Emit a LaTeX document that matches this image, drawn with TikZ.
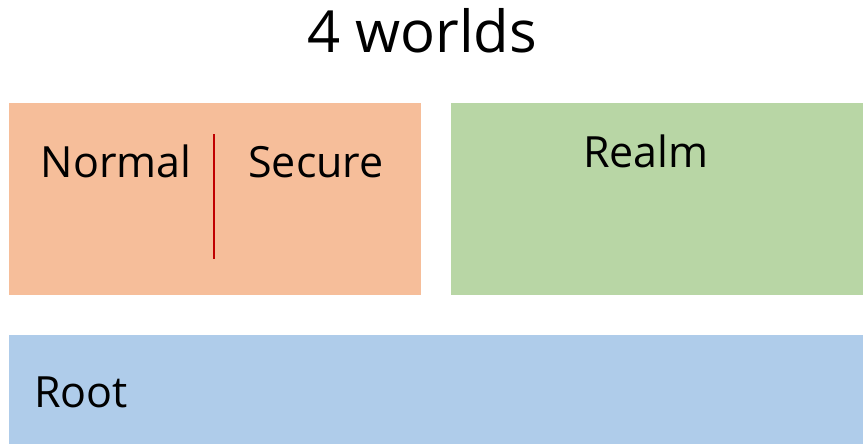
\documentclass[tikz,border=0pt]{standalone}
\usepackage{fontspec}
\setmainfont{Open Sans}
\definecolor{normalfill}{HTML}{F6BE9A}
\definecolor{realmfill}{HTML}{B8D6A5}
\definecolor{rootfill}{HTML}{AFCCEA}
\definecolor{divider}{HTML}{C00000}
\begin{document}
\begin{tikzpicture}[x=1pt,y=-1pt,
  world/.style={draw=none,inner sep=0pt,anchor=north west},
  label/.style={inner sep=0pt,anchor=base,font=\fontsize{43}{43}\selectfont}]
\useasboundingbox (0,0) rectangle (863,444);
\fill[white] (0,0) rectangle (863,444);
% title
\node[inner sep=0pt,anchor=base,font=\fontsize{58}{58}\selectfont] (title) at (422,53) {4 worlds};
% world boxes
\node[world,fill=normalfill,minimum width=412pt,minimum height=192pt] (ns) at (9,103) {};
\node[world,fill=realmfill,minimum width=412pt,minimum height=192pt] (realm) at (451,103) {};
\node[world,fill=rootfill,minimum width=854pt,minimum height=109pt] (root) at (9,335) {};
% split between normal and secure
\coordinate (divtop) at (214,134);
\coordinate (divbot) at (214,259);
\draw[divider,line width=2pt] (divtop) -- (divbot);
% labels
\node[label] (normal) at (116,177) {Normal};
\node[label] (secure) at (316,177) {Secure};
\node[label] (realmlbl) at (646,167) {Realm};
\node[label,anchor=base west] (rootlbl) at (34,407) {Root};
\end{tikzpicture}
\end{document}
